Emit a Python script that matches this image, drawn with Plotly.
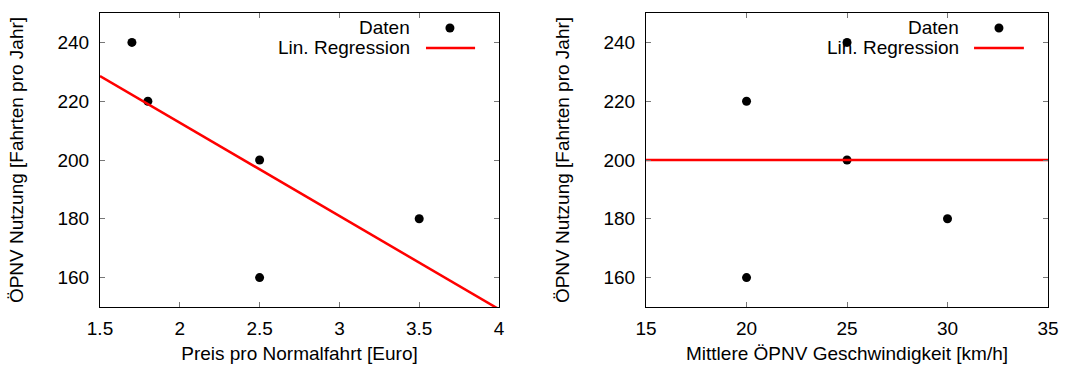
import numpy as np
import plotly.graph_objects as go
from plotly.subplots import make_subplots

# Data
preis = [1.7, 1.8, 2.5, 2.5, 3.5]
geschw = [25, 20, 25, 20, 30]
nutzung = [240, 220, 200, 160, 180]
nutzung_g = [240, 220, 200, 160, 180]

x1_range = [1.5, 4]
x2_range = [15, 35]
y_range = [150, 250]
x1_ticks = [1.5, 2, 2.5, 3, 3.5, 4]
x2_ticks = [15, 20, 25, 30, 35]
y_ticks = [160, 180, 200, 220, 240]

y_title = "ÖPNV Nutzung [Fahrten pro Jahr]"
x1_title = "Preis pro Normalfahrt [Euro]"
x2_title = "Mittlere ÖPNV Geschwindigkeit [km/h]"

FONT = "Liberation Sans, Arial, Helvetica, sans-serif"
FS = 19

fig = make_subplots(rows=1, cols=2, horizontal_spacing=0.155)

def add_panel(col, xs, ys, xr):
    m, b = np.polyfit(xs, ys, 1)
    xl = np.array(xr, dtype=float)
    fig.add_trace(go.Scatter(x=xs, y=ys, mode="markers",
                             marker=dict(color="black", size=9),
                             showlegend=False, cliponaxis=False), row=1, col=col)
    fig.add_trace(go.Scatter(x=xl, y=m * xl + b, mode="lines",
                             line=dict(color="#ff0000", width=2.5),
                             showlegend=False), row=1, col=col)

add_panel(1, preis, nutzung, x1_range)
add_panel(2, geschw, nutzung_g, x2_range)

axis_common = dict(showgrid=False, zeroline=False, showline=True, linecolor="black",
                   linewidth=1.2, mirror="ticks", ticks="inside", ticklen=5,
                   tickcolor="#777777", tickwidth=1, automargin=False,
                   tickfont=dict(family=FONT, size=FS, color="black"))

fig.update_xaxes(range=x1_range, tickvals=x1_ticks, ticktext=[f"{v:g}" for v in x1_ticks],
                 title=dict(text=x1_title, font=dict(family=FONT, size=FS, color="black"), standoff=8),
                 row=1, col=1, **axis_common)
fig.update_xaxes(range=x2_range, tickvals=x2_ticks, ticktext=[f"{v:g}" for v in x2_ticks],
                 title=dict(text=x2_title, font=dict(family=FONT, size=FS, color="black"), standoff=8),
                 row=1, col=2, **axis_common)
for c in (1, 2):
    fig.update_yaxes(range=y_range, tickvals=y_ticks,
                     title=dict(text=y_title, font=dict(family=FONT, size=FS, color="black"), standoff=28),
                     row=1, col=c, ticklabelstandoff=6, **axis_common)

fig.update_xaxes(ticklabelstandoff=4)

fig.layout.xaxis.domain = [0.0, 0.4209]
fig.layout.xaxis2.domain = [0.576, 1.0]

# Gnuplot-style legends (text right, symbol on the right)
legend_pos = [("x domain", "y domain", 0.782, 0.877, 0.817, 0.940),
              ("x2 domain", "y2 domain", 0.784, 0.878, 0.816, 0.940)]
shapes = []
annotations = []
for xref, yref, tx, mx, l0, l1 in legend_pos:
    annotations.append(dict(xref=xref, yref=yref, x=tx, y=0.949, text="Daten", showarrow=False,
                            xanchor="right", yanchor="middle",
                            font=dict(family=FONT, size=FS, color="black")))
    annotations.append(dict(xref=xref, yref=yref, x=tx, y=0.881, text="Lin. Regression", showarrow=False,
                            xanchor="right", yanchor="middle",
                            font=dict(family=FONT, size=FS, color="black")))
    shapes.append(dict(type="circle", xref=xref, yref=yref, xsizemode="pixel", ysizemode="pixel",
                       xanchor=mx, yanchor=0.949, x0=-4.5, x1=4.5, y0=-4.5, y1=4.5,
                       fillcolor="black", line=dict(color="black", width=0)))
    shapes.append(dict(type="line", xref=xref, yref=yref, x0=l0, x1=l1, y0=0.881, y1=0.881,
                       line=dict(color="#ff0000", width=2.5)))

fig.update_layout(width=1066, height=367, margin=dict(l=100, r=18, t=13, b=60),
                  plot_bgcolor="white", paper_bgcolor="white",
                  shapes=shapes, annotations=annotations, showlegend=False,
                  font=dict(family=FONT, size=FS, color="black"))

fig.write_html("out.html", config={"displayModeBar": False},
               post_script="document.body.style.margin='0px';")
